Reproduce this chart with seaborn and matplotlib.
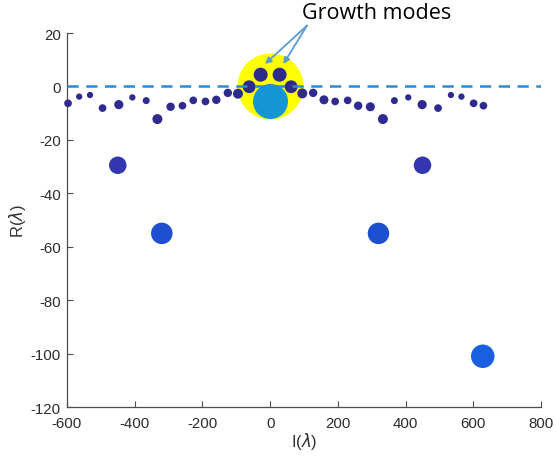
import matplotlib
matplotlib.use("Agg")
import matplotlib.pyplot as plt
import seaborn as sns
import pandas as pd

# Eigenvalue spectrum: imaginary part I(lambda) vs real part R(lambda)
imag_part = [-597, -564, -532, -495, -447, -407, -366, -333, -294, -259, -227, -191, -159, -125, -95, -62,
             -28, 28,
             62, 95, 127, 159, 192, 229, 260, 296, 333, 367, 408, 449, 496, 534, 565, 601, 630,
             -450, 450, -320, 320, 628, 0]
real_part = [-6.3, -3.8, -3.2, -8.1, -6.8, -4.1, -5.3, -12.2, -7.6, -7.2, -5.2, -5.6, -5.0, -2.4, -2.7, -0.1,
             4.4, 4.4,
             -0.1, -2.6, -2.4, -5.0, -5.6, -5.2, -7.2, -7.6, -12.2, -5.3, -4.1, -6.8, -8.1, -3.2, -3.8, -6.3, -7.2,
             -29.5, -29.5, -55.0, -55.0, -101.0, -5.5]
mode_kind = (["stable"] * 16 + ["growth"] * 2 + ["stable"] * 17
             + ["damped"] * 2 + ["strong"] * 2 + ["strongest"] + ["mean"])

# marker diameters in pixels, one per eigenvalue
dot_px = [7.7, 6.3, 6.3, 7.7, 9.2, 6.3, 7.0, 10.0, 8.4, 7.7, 7.7, 7.7, 8.4, 8.4, 10.0, 12.8,
          14.0, 14.0,
          12.8, 10.0, 8.4, 9.0, 7.7, 7.7, 8.4, 9.0, 10.0, 7.0, 6.3, 9.2, 7.7, 6.3, 6.3, 7.7, 7.7,
          17.5, 17.5, 21.5, 21.5, 23.5, 35]

palette = {"stable": "#2e2a8e", "growth": "#2e2a8e", "damped": "#3237b0",
           "strong": "#1e4fd2", "strongest": "#1a5fe0", "mean": "#1496d4"}

df = pd.DataFrame({"I": imag_part, "R": real_part, "kind": mode_kind,
                   "area": [(d * 0.72) ** 2 for d in dot_px]})

sns.set_style("white")
plt.rcParams["font.family"] = ["Liberation Sans", "DejaVu Sans"]
plt.rcParams["axes.unicode_minus"] = False

fig = plt.figure(figsize=(5.56, 4.60), dpi=100)
ax = fig.add_axes([0.1205, 0.113, 0.8525, 0.813])

# highlight around the unstable modes
ax.scatter([0], [0], s=(66 * 0.72) ** 2, color="#ffff00", linewidths=0, zorder=1)

back = df[df["kind"] == "mean"]
front = df[df["kind"] != "mean"]
sns.scatterplot(data=back, x="I", y="R", hue="kind", palette=palette, size="area",
                sizes=(back["area"].min(), back["area"].max() + 1e-9),
                size_norm=(back["area"].min(), back["area"].max() + 1e-9),
                linewidth=0, legend=False, ax=ax, zorder=2, clip_on=False)
sns.scatterplot(data=front, x="I", y="R", hue="kind", palette=palette, size="area",
                sizes=(front["area"].min(), front["area"].max()),
                size_norm=(front["area"].min(), front["area"].max()),
                linewidth=0, legend=False, ax=ax, zorder=3, clip_on=False)

ax.axhline(0, color="#2a8ad6", lw=1.8, ls=(0, (4.5, 3.0)), zorder=4)

ax.set_xlim(-600, 800)
ax.set_ylim(-120, 20)
ax.set_xticks(range(-600, 801, 200))
ax.set_yticks(range(-120, 21, 20))
ax.set_xlabel(r"I($\lambda$)", fontsize=12, color="#333333", labelpad=0)
ax.set_ylabel(r"R($\lambda$)", fontsize=12, color="#333333", labelpad=2)

for side in ("top", "right"):
    ax.spines[side].set_visible(False)
for side in ("left", "bottom"):
    ax.spines[side].set_color("#4d4d4d")
    ax.spines[side].set_linewidth(0.9)
ax.tick_params(bottom=True, left=True, direction="in", length=4, width=0.8,
               color="#4d4d4d", labelsize=10.8, labelcolor="#2b2b2b")
ax.tick_params(axis="x", pad=6.5)
ax.tick_params(axis="y", pad=4.5)

# label the two growth modes
for tx in (-15, 39):
    ax.annotate("", xy=(tx, 8.4), xytext=(109, 22.8),
                arrowprops=dict(arrowstyle="-|>", color="#5b9bd5", lw=1.3,
                                mutation_scale=9, shrinkA=0, shrinkB=0),
                annotation_clip=False, zorder=6)
ax.text(93, 27.8, "Growth modes", fontsize=15.5, family=["Open Sans", "DejaVu Sans"],
        color="black", va="center", ha="left", clip_on=False)

fig.savefig("out.png", dpi=100)
